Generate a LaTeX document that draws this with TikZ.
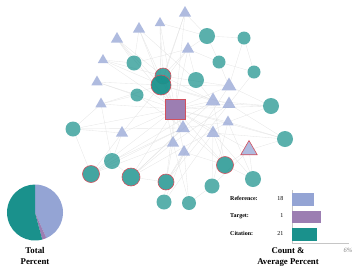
\documentclass[tikz,border=0pt]{standalone}
\usepackage{fontspec}
\setmainfont{Liberation Serif}
\usetikzlibrary{shapes.geometric,backgrounds}
\definecolor{refc}{HTML}{94A4D4}
\definecolor{tarc}{HTML}{9C7EB2}
\definecolor{citc}{HTML}{1A918C}
\definecolor{redc}{HTML}{D2505E}
\definecolor{edgec}{HTML}{E0E0E0}
\tikzset{
  refn/.style={regular polygon, regular polygon sides=3, fill=refc, fill opacity=0.75, inner sep=0pt, outer sep=0pt, minimum size=#1},
  refred/.style={refn=#1, draw=redc, draw opacity=1, line width=0.6pt},
  citn/.style={circle, fill=citc, fill opacity=0.72, inner sep=0pt, outer sep=0pt, minimum size=#1},
  citred/.style={circle, fill=citc, fill opacity=0.82, draw=redc, line width=0.6pt, inner sep=0pt, outer sep=0pt, minimum size=#1},
  tarn/.style={rectangle, fill=tarc, draw=redc, line width=0.6pt, inner sep=0pt, minimum size=#1},
  edge/.style={draw=edgec, line width=0.35pt, opacity=0.8},
  lbl/.style={font=\bfseries\fontsize{6}{7}\selectfont, inner sep=0pt, anchor=west},
  num/.style={font=\fontsize{6}{7}\selectfont, inner sep=0pt, anchor=east},
  ttl/.style={font=\bfseries\fontsize{8.8}{10.5}\selectfont, align=center, inner sep=0pt},
  bar/.style={inner sep=0pt, outer sep=0pt, anchor=west, minimum height=12.5pt}
}
\begin{document}
\begin{tikzpicture}[x=1pt,y=-1pt]
\useasboundingbox (0,0) rectangle (359,269);
% reference triangles
\node[refn=14pt] (r1) at (117,39) {};
\node[refn=14pt] (r2) at (139,29) {};
\node[refn=12pt] (r3) at (160,23) {};
\node[refn=14pt] (r4) at (185,13) {};
\node[refn=12pt] (r5) at (103,60) {};
\node[refn=13pt] (r6) at (97,82) {};
\node[refn=13pt] (r7) at (101,104) {};
\node[refn=14pt] (r8) at (122,133) {};
\node[refn=14pt] (r9) at (188,49) {};
\node[refn=17pt] (r10) at (229,86) {};
\node[refn=17pt] (r11) at (213,101) {};
\node[refn=15pt] (r12) at (229,104) {};
\node[refn=13pt] (r13) at (228,122) {};
\node[refn=16pt] (r14) at (183,128) {};
\node[refn=15pt] (r15) at (213,133) {};
\node[refn=14pt] (r16) at (173,143) {};
\node[refn=14pt] (r17) at (184,152) {};
\node[refred=19pt] (r18) at (249,150) {};
% citations
\node[citn=15pt] (c1) at (134,63) {};
\node[citred=16pt] (c2) at (163,76) {};
\node[citred=20pt, fill opacity=0.95] (c3) at (161,85) {};
\node[citn=13pt] (c4) at (137,95) {};
\node[citn=15pt] (c5) at (73,129) {};
\node[citn=16pt] (c6) at (207,36) {};
\node[citn=13pt] (c7) at (244,38) {};
\node[citn=13pt] (c8) at (219,62) {};
\node[citn=13pt] (c9) at (254,72) {};
\node[citn=16pt] (c10) at (196,80) {};
\node[citn=16pt] (c11) at (271,106) {};
\node[citn=16pt] (c12) at (285,139) {};
\node[citred=17pt] (c13) at (225,165) {};
\node[citn=16pt] (c14) at (112,161) {};
\node[citred=17pt] (c15) at (91,174) {};
\node[citred=18pt] (c16) at (131,177) {};
\node[citred=16pt] (c17) at (166,182) {};
\node[citn=15pt] (c18) at (164,202) {};
\node[citn=14pt] (c19) at (189,203) {};
\node[citn=15pt] (c20) at (212,186) {};
\node[citn=16pt] (c21) at (253,179) {};
% target
\node[tarn=20pt] (t) at (175,109) {};
\begin{scope}[on background layer]
\foreach \a/\b in {t/r1,t/r2,t/r3,t/r4,t/r5,t/r6,t/r7,t/r8,t/r9,t/r10,t/r11,t/r12,t/r13,t/r14,t/r15,t/r16,t/r17,t/r18,
  t/c2,t/c3,t/c15,t/c16,t/c17,t/c13,t/c5,t/c11,t/c12,
  c3/r1,c3/r2,c3/r3,c3/r4,c3/r5,c3/r6,c3/r7,c3/r8,c3/r9,c3/r11,c3/r12,c3/r14,c3/r16,c3/r10,
  c2/r1,c2/r3,c2/r4,c2/r9,c2/r11,c2/r10,c2/r5,
  c1/r1,c1/r5,c1/r2,c1/r9,c4/r6,c4/r7,c4/r14,c5/r8,c5/c15,c5/r7,c5/r14,
  c6/r4,c6/c7,c6/r9,c6/c8,c6/r3,c7/c9,c7/r10,c8/r9,c8/c9,c8/r10,c9/r12,c10/r9,c10/r11,c10/r2,
  c11/r12,c11/r13,c11/r10,c11/r11,c12/r13,c12/r18,c12/r15,c12/r12,c13/r18,c13/r15,c13/r17,c13/r14,
  c14/r8,c14/r7,c14/c16,c14/r14,c15/r8,c15/r16,c15/r14,c16/r16,c16/r14,c16/r11,c17/r17,c17/r16,c17/r12,
  c18/c17,c18/r17,c18/r15,c19/r17,c19/c20,c19/r16,c20/r15,c20/r18,c20/r13,c21/r18,c21/r15,c21/c13,c21/r13,
  c16/c17,c16/r13,c15/r11,c17/r10,c13/r11,r14/r13,r16/r12}
  \draw[edge] (\a) -- (\b);
\end{scope}
% pie
\coordinate (pc) at (35,212.5);
\fill[refc] (pc) -- ++(-90:28) arc[start angle=-90, end angle=66, radius=28] -- cycle;
\fill[tarc] (pc) -- ++(66:28) arc[start angle=66, end angle=75, radius=28] -- cycle;
\fill[citc] (pc) -- ++(75:28) arc[start angle=75, end angle=270, radius=28] -- cycle;
\node[ttl] (pt) at (35,256) {Total\\Percent};
% legend
\node[lbl] (l1) at (230,198.5) {Reference:};
\node[lbl] (l2) at (230,216) {Target:};
\node[lbl] (l3) at (230,233.5) {Citation:};
\node[num] (n1) at (283.5,198.5) {18};
\node[num] (n2) at (283.5,216) {1};
\node[num] (n3) at (283.5,233.5) {21};
\coordinate (ax0) at (292,190);
\coordinate (ax1) at (292,243.5);
\coordinate (ax2) at (349,243.5);
\draw[draw=gray!45, line width=0.4pt] (ax0) -- (ax1) -- (ax2);
\node[bar, fill=refc, minimum width=22pt] (b1) at (292.3,199.5) {};
\node[bar, fill=tarc, minimum width=29pt] (b2) at (292.3,217) {};
\node[bar, fill=citc, minimum width=25pt] (b3) at (292.3,234.5) {};
\node[font=\itshape\fontsize{6.5}{7}\selectfont, text=gray, inner sep=0pt] (pct) at (348,250) {6\%};
\node[ttl] (ct) at (288,257) {Count \&\\Average Percent};
\end{tikzpicture}
\end{document}
